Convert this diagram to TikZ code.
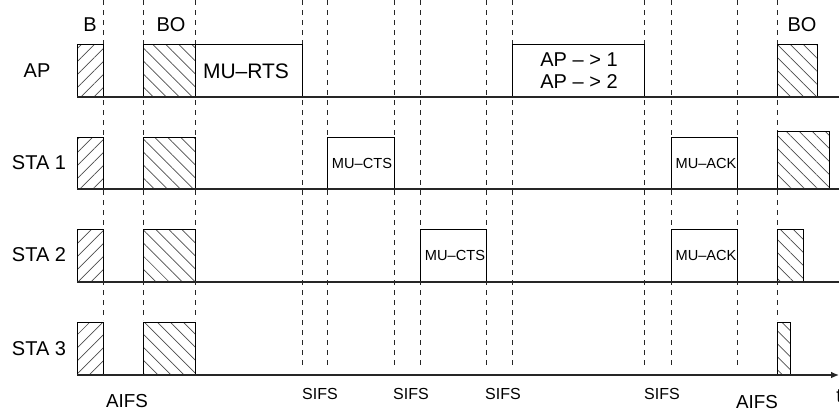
\documentclass[tikz,border=0pt]{standalone}
\usepackage{fontspec}
\setmainfont{Liberation Sans}
\usetikzlibrary{patterns.meta,arrows.meta}
\begin{document}
\begin{tikzpicture}[x=0.5pt,y=-0.5pt,
  hne/.style={draw=black,line width=0.5pt,pattern={Lines[angle=45,distance=4.6pt,line width=0.35pt]},pattern color=black!70},
  hnw/.style={draw=black,line width=0.5pt,pattern={Lines[angle=-45,distance=4.6pt,line width=0.35pt]},pattern color=black!70},
  frame/.style={draw=black,line width=0.5pt},
  vdash/.style={draw=black!85,line width=0.5pt,dash pattern=on 2.5pt off 2.5pt},
  base/.style={draw=black!85,line width=0.7pt},
  lbl/.style={font=\fontsize{10}{11}\selectfont,inner sep=0pt},
  small/.style={font=\fontsize{7.3}{8}\selectfont,inner sep=0pt},
  ifs/.style={font=\fontsize{8}{9}\selectfont,inner sep=0pt},
  aifs/.style={font=\fontsize{9.4}{10}\selectfont,inner sep=0pt}]
\useasboundingbox (0,0) rectangle (839,412);
% dashed time marks
\foreach \x in {103,143,195,777} \draw[vdash] (\x,0) -- (\x,320);
\foreach \x in {302,327,394,420,486,512,644,671,737} \draw[vdash] (\x,0) -- (\x,368);
% AP row
\draw[hne] (77,44) rectangle (103,97);
\draw[hnw] (143,44) rectangle (195,97);
\draw[frame] (195,44) rectangle (302,97);
\draw[frame] (512,44) rectangle (644,97);
\draw[hnw] (777,44) rectangle (817,97);
\draw[base] (77,97) -- (839,97);
% STA 1 row
\draw[hne] (77,137) rectangle (103,189);
\draw[hnw] (143,137) rectangle (195,189);
\draw[frame] (327,137) rectangle (394,189);
\draw[frame] (671,137) rectangle (737,189);
\draw[hnw] (777,131) rectangle (829,189);
\draw[base] (77,189) -- (839,189);
% STA 2 row
\draw[hne] (77,229) rectangle (103,282);
\draw[hnw] (143,229) rectangle (195,282);
\draw[frame] (420,229) rectangle (486,282);
\draw[frame] (671,229) rectangle (737,282);
\draw[hnw] (777,229) rectangle (803,282);
\draw[base] (77,282) -- (839,282);
% STA 3 row
\draw[hne] (77,322) rectangle (103,375);
\draw[hnw] (143,322) rectangle (195,375);
\draw[hnw] (777,322) rectangle (790,375);
\coordinate (axs) at (77,375);
\coordinate (axe) at (839,375);
\draw[base,-{Latex[length=4pt,width=3.4pt]}] (axs) -- (axe);
% labels
\node[lbl] (lB) at (90,25) {B};
\node[lbl] (lBO1) at (171,25) {BO};
\node[lbl] (lBO2) at (802,25) {BO};
\node[lbl] (lAP) at (37,71) {AP};
\node[lbl] (lS1) at (39,163) {STA 1};
\node[lbl] (lS2) at (39,255) {STA 2};
\node[lbl] (lS3) at (39,349) {STA 3};
\node[lbl,font=\fontsize{10.5}{12}\selectfont] (rts) at (246,71) {MU–RTS};
\node[lbl,align=center] (apx) at (579,71) {AP – > 1\\AP – > 2};
\node[small] (cts1) at (362,163) {MU–CTS};
\node[small] (cts2) at (455,255) {MU–CTS};
\node[small] (ack1) at (706,163) {MU–ACK};
\node[small] (ack2) at (706,255) {MU–ACK};
\node[aifs] (aifs1) at (127,401) {AIFS};
\node[ifs] (sifs1) at (320,394) {SIFS};
\node[ifs] (sifs2) at (411,394) {SIFS};
\node[ifs] (sifs3) at (503,394) {SIFS};
\node[ifs] (sifs4) at (662,394) {SIFS};
\node[aifs] (aifs2) at (757,402) {AIFS};
\node[lbl,anchor=west] (t) at (836,396) {t};
\end{tikzpicture}
\end{document}
